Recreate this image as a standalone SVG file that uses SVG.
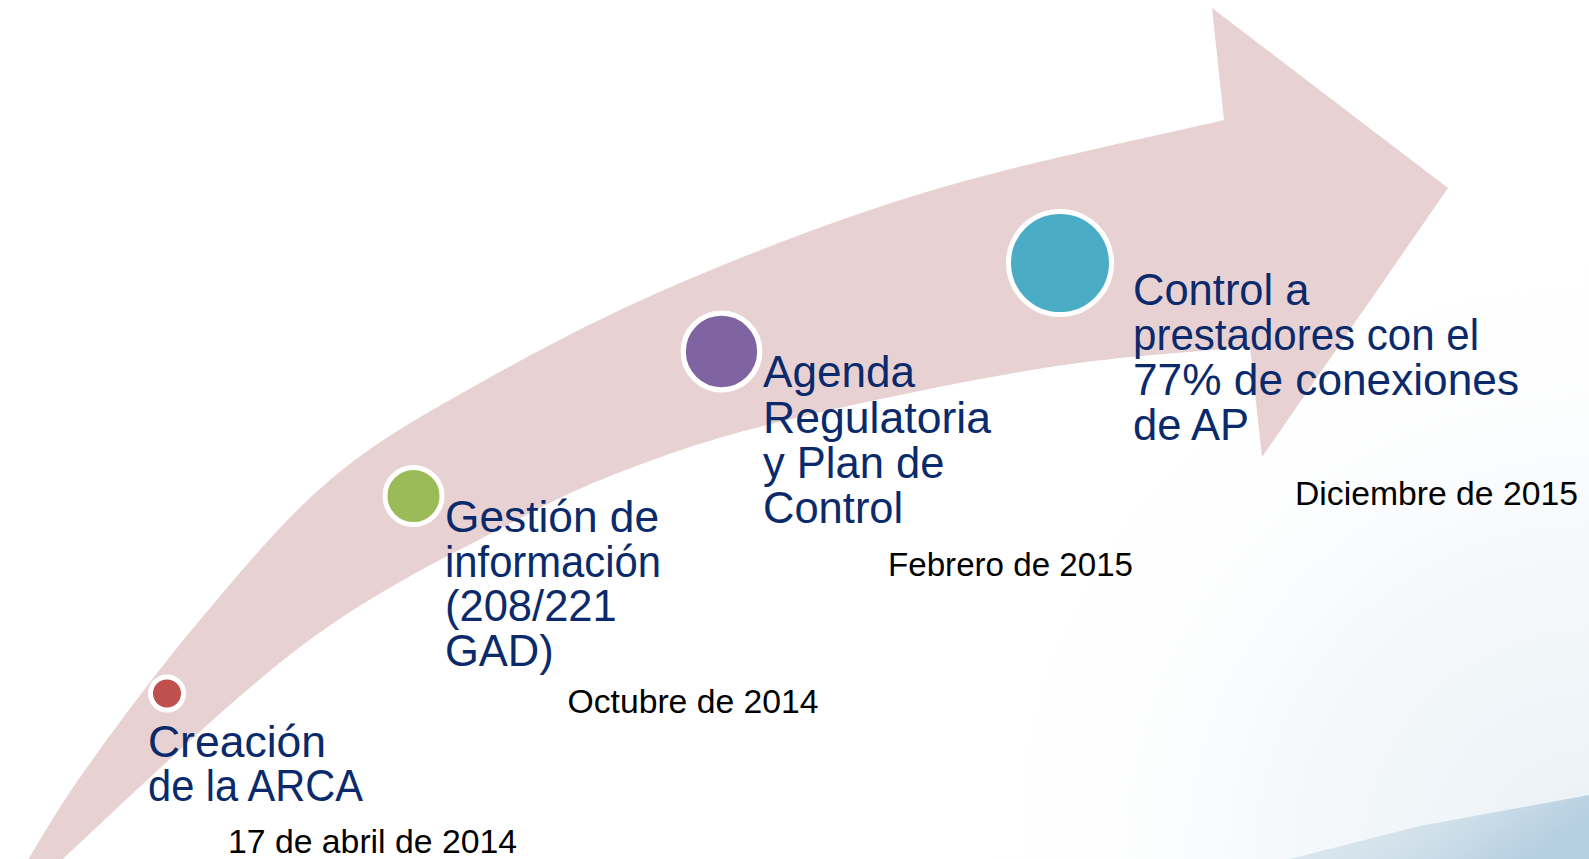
<svg xmlns="http://www.w3.org/2000/svg" width="1589" height="859" viewBox="0 0 1589 859">
  <defs>
    <style>
      .lbl { font-family: "Liberation Sans", Arial, sans-serif; font-size: 43.5px; fill: #0B2A6B; }
      .date { font-family: "Liberation Sans", Arial, sans-serif; font-size: 34px; fill: #000000; }
      .ring { stroke: #FFFFFF; }
    </style>
    <linearGradient id="sea" x1="0" y1="0" x2="1" y2="0.3">
      <stop offset="0" stop-color="#E2ECF2"/>
      <stop offset="0.6" stop-color="#D0E0EA"/>
      <stop offset="1" stop-color="#B6CFE1"/>
    </linearGradient>
    <radialGradient id="haze" cx="1589" cy="859" r="620" gradientUnits="userSpaceOnUse">
      <stop offset="0" stop-color="#E9F1F6" stop-opacity="1"/>
      <stop offset="0.5" stop-color="#F3F7FA" stop-opacity="0.8"/>
      <stop offset="1" stop-color="#FFFFFF" stop-opacity="0"/>
    </radialGradient>
  </defs>

  <rect x="0" y="0" width="1589" height="859" fill="#FFFFFF"/>

  <g id="background">
    <rect x="960" y="230" width="629" height="629" fill="url(#haze)"/>
    <polygon points="1290,859 1420,826 1589,795 1589,859" fill="url(#sea)"/>
  </g>

  <g id="arrow">
    <path fill="#E8D1D2" d="M16,880
      C27.2,862.2 52.3,816.3 83,773
      C113.7,729.7 158.8,668.8 200,620
      C241.2,571.2 283.3,519.5 330,480
      C376.7,440.5 421.7,415.8 480,383
      C538.3,350.2 604.5,315.2 680,283
      C755.5,250.8 842.3,217.2 933,190
      C1023.7,162.8 1175.5,131.7 1224,120
      L1212,8 L1448,188 L1262,457 L1250,347
      C1216.7,350.3 1125,355.3 1050,367
      C975,378.7 866.7,401.3 800,417
      C733.3,432.7 697.2,443.8 650,461
      C602.8,478.2 575.3,489 517,520
      C458.7,551 379.5,587 300,647
      C220.5,707 83.3,841.2 40,880 Z"/>
  </g>

  <g id="node-creacion">
    <circle class="ring" cx="167" cy="693.5" r="16.5" fill="#C0504D" stroke-width="5"/>
    <text class="lbl" x="148" y="757" textLength="178" lengthAdjust="spacingAndGlyphs">Creación</text>
    <text class="lbl" x="148" y="801" textLength="215" lengthAdjust="spacingAndGlyphs">de la ARCA</text>
    <text class="date" x="228" y="853" textLength="289" lengthAdjust="spacingAndGlyphs">17 de abril de 2014</text>
  </g>

  <g id="node-gestion">
    <circle class="ring" cx="413.5" cy="496" r="28.5" fill="#9BBB59" stroke-width="5"/>
    <text class="lbl" x="445" y="532" textLength="214" lengthAdjust="spacingAndGlyphs">Gestión de</text>
    <text class="lbl" x="445" y="577" textLength="216" lengthAdjust="spacingAndGlyphs">información</text>
    <text class="lbl" x="445" y="621">(208/221</text>
    <text class="lbl" x="445" y="665.5">GAD)</text>
    <text class="date" x="567.5" y="713" textLength="251" lengthAdjust="spacingAndGlyphs">Octubre de 2014</text>
  </g>

  <g id="node-agenda">
    <circle class="ring" cx="721.5" cy="351.5" r="38.3" fill="#8064A2" stroke-width="5.3"/>
    <text class="lbl" x="763" y="387" textLength="152" lengthAdjust="spacingAndGlyphs">Agenda</text>
    <text class="lbl" x="763" y="433" textLength="228" lengthAdjust="spacingAndGlyphs">Regulatoria</text>
    <text class="lbl" x="763" y="478">y Plan de</text>
    <text class="lbl" x="763" y="523">Control</text>
    <text class="date" x="888" y="576" textLength="245" lengthAdjust="spacingAndGlyphs">Febrero de 2015</text>
  </g>

  <g id="node-control">
    <circle class="ring" cx="1060" cy="263" r="51.5" fill="#4BACC6" stroke-width="5"/>
    <text class="lbl" x="1133" y="305">Control a</text>
    <text class="lbl" x="1133" y="350" textLength="346" lengthAdjust="spacingAndGlyphs">prestadores con el</text>
    <text class="lbl" x="1133" y="395" textLength="386" lengthAdjust="spacingAndGlyphs">77% de conexiones</text>
    <text class="lbl" x="1133" y="440">de AP</text>
    <text class="date" x="1295" y="505" textLength="283" lengthAdjust="spacingAndGlyphs">Diciembre de 2015</text>
  </g>
</svg>
